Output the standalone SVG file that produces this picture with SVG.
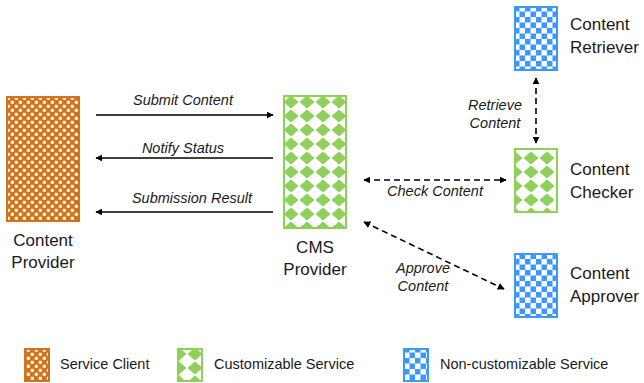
<svg xmlns="http://www.w3.org/2000/svg" width="644" height="383" viewBox="0 0 644 383">
<defs>
<pattern id="pOrange" patternUnits="userSpaceOnUse" x="6" y="96" width="8" height="8">
<rect width="8" height="8" fill="#d2731e"/>
<rect x="0.8" y="0.8" width="3" height="3" fill="#fff"/>
<rect x="4.8" y="4.8" width="3" height="3" fill="#fff"/>
</pattern>
<pattern id="pGreen" patternUnits="userSpaceOnUse" x="283" y="95" width="16" height="14">
<rect width="16" height="14" fill="#fff"/>
<path d="M8 0.5 L15.5 7 L8 13.5 L0.5 7 Z" fill="#8dd05a"/>
</pattern>
<pattern id="pBlue" patternUnits="userSpaceOnUse" x="514" y="6" width="11" height="11">
<rect width="11" height="11" fill="#fff"/>
<rect width="5.5" height="5.5" fill="#3a98ff"/>
<rect x="5.5" y="5.5" width="5.5" height="5.5" fill="#3a98ff"/>
</pattern>
<marker id="ah" viewBox="0 0 10 10" refX="9" refY="5" markerWidth="7" markerHeight="7" orient="auto-start-reverse" markerUnits="userSpaceOnUse">
<path d="M0 0 L10 5 L0 10 Z" fill="#000"/>
</marker>
<style>
.lbl{font-family:"Liberation Sans",Arial,sans-serif;font-size:17px;fill:#1a1a1a}
.al{font-family:"Liberation Sans",Arial,sans-serif;font-size:14.5px;font-style:italic;fill:#1a1a1a;text-anchor:middle}
.leg{font-family:"Liberation Sans",Arial,sans-serif;font-size:14.5px;fill:#1a1a1a}
.solid{stroke:#000;stroke-width:1.6;fill:none}
.dash{stroke:#000;stroke-width:1.6;fill:none;stroke-dasharray:6 4}
.client{fill:url(#pOrange);stroke:#d2731e;stroke-width:2}
.cust{fill:url(#pGreen);stroke:#8dd05a;stroke-width:2}
.noncust{fill:url(#pBlue);stroke:#3a98ff;stroke-width:2}
</style>
</defs>
<rect width="644" height="383" fill="#fff"/>
<g id="content-provider">
<rect class="client" x="7" y="97" width="72" height="124"/>
<text class="lbl" x="43" y="246" text-anchor="middle">Content</text>
<text class="lbl" x="43" y="268" text-anchor="middle">Provider</text>
</g>
<g id="cms-provider">
<rect class="cust" x="284" y="96" width="62" height="132"/>
<text class="lbl" x="315" y="253" text-anchor="middle">CMS</text>
<text class="lbl" x="315" y="275" text-anchor="middle">Provider</text>
</g>
<g id="content-retriever">
<rect class="noncust" x="515" y="7" width="42" height="63"/>
<text class="lbl" x="570" y="30">Content</text>
<text class="lbl" x="570" y="53">Retriever</text>
</g>
<g id="content-checker">
<rect class="cust" x="515" y="149" width="42" height="63"/>
<text class="lbl" x="570" y="175">Content</text>
<text class="lbl" x="570" y="198">Checker</text>
</g>
<g id="content-approver">
<rect class="noncust" x="515" y="254" width="42" height="63"/>
<text class="lbl" x="570" y="279">Content</text>
<text class="lbl" x="570" y="302">Approver</text>
</g>
<g id="connectors">
<line class="solid" x1="96" y1="115" x2="273" y2="115" marker-end="url(#ah)"/>
<line class="solid" x1="273" y1="158" x2="96" y2="158" marker-end="url(#ah)"/>
<line class="solid" x1="273" y1="212" x2="96" y2="212" marker-end="url(#ah)"/>
<line class="dash" x1="364" y1="180" x2="506" y2="180" marker-start="url(#ah)" marker-end="url(#ah)"/>
<line class="dash" x1="536" y1="78" x2="536" y2="143" marker-start="url(#ah)" marker-end="url(#ah)"/>
<line class="dash" x1="364" y1="222" x2="504" y2="289" marker-start="url(#ah)" marker-end="url(#ah)"/>
<text class="al" x="183" y="105">Submit Content</text>
<text class="al" x="183" y="153">Notify Status</text>
<text class="al" x="192" y="203">Submission Result</text>
<text class="al" x="435" y="196">Check Content</text>
<text class="al" x="495" y="110">Retrieve</text>
<text class="al" x="495" y="128">Content</text>
<text class="al" x="423" y="273">Approve</text>
<text class="al" x="423" y="291">Content</text>
</g>
<g id="legend">
<rect class="client" x="25" y="349" width="24" height="32"/>
<text class="leg" x="60" y="369">Service Client</text>
<rect class="cust" x="178" y="349" width="24" height="32"/>
<text class="leg" x="214" y="369">Customizable Service</text>
<rect class="noncust" x="404" y="349" width="24" height="32"/>
<text class="leg" x="440" y="369">Non-customizable Service</text>
</g>
</svg>
